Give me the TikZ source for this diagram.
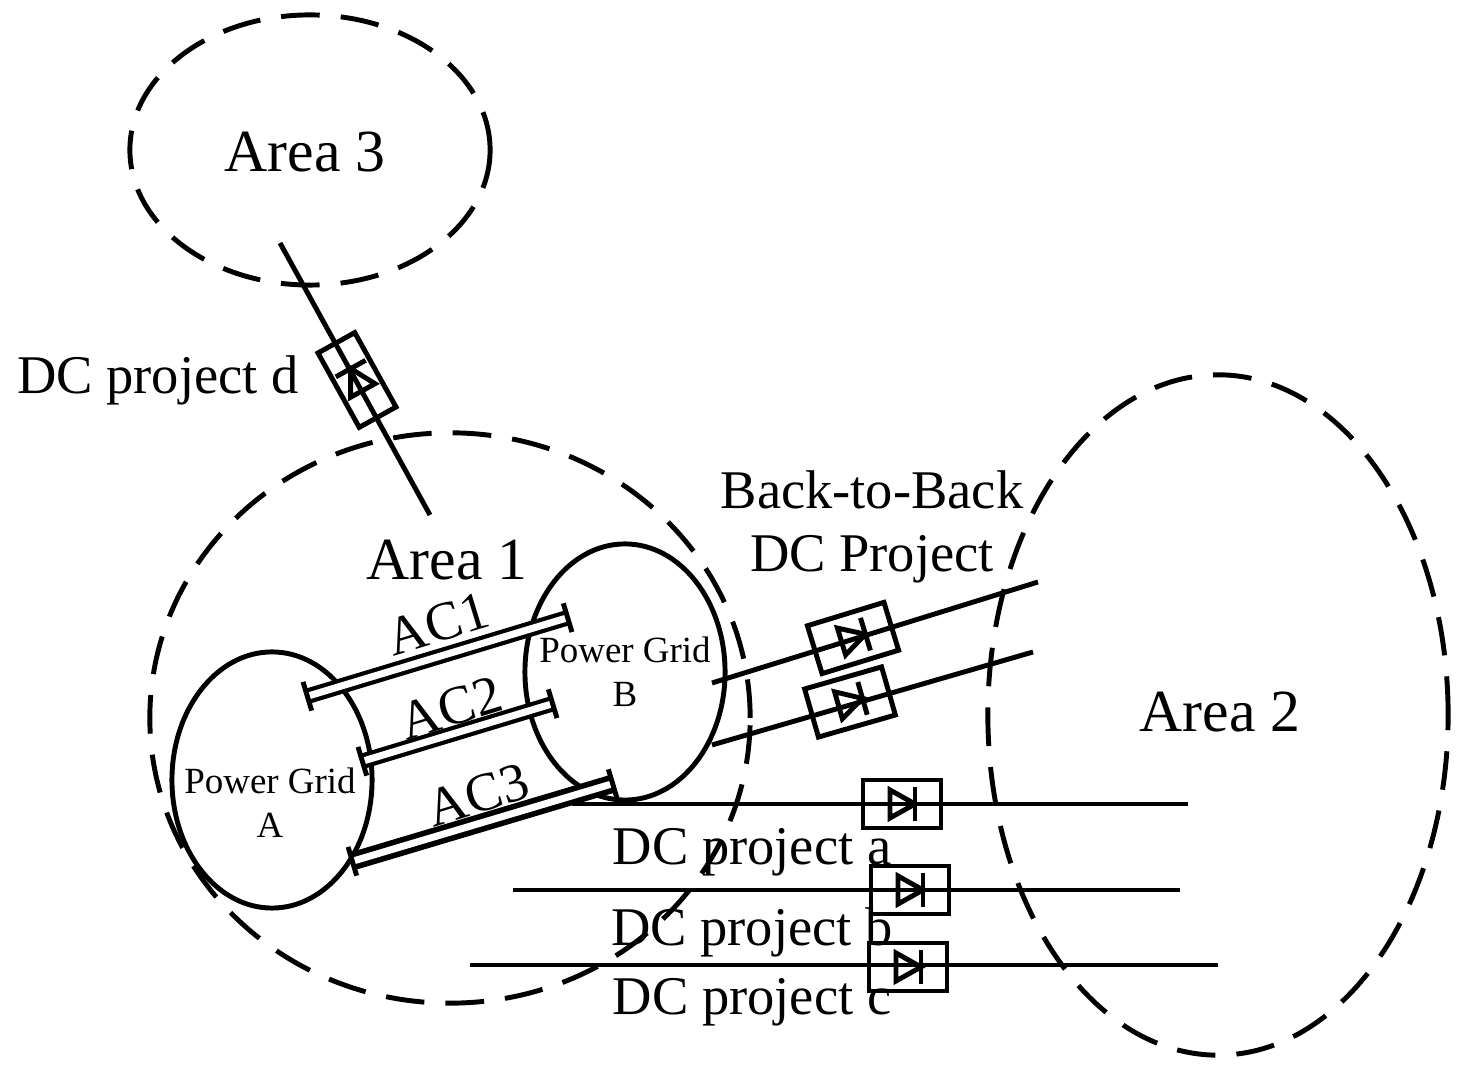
\documentclass[tikz,border=0pt]{standalone}
\usepackage{fontspec}
\setmainfont{Liberation Serif}
\usetikzlibrary{shapes.geometric,arrows.meta}
\begin{document}
\begin{tikzpicture}[x=0.01cm,y=-0.01cm,
   area/.style={draw,ellipse,dash pattern=on 11pt off 6pt,line width=1.4pt,inner sep=0},
   grid/.style={draw,ellipse,line width=1.4pt,inner sep=0},
   line/.style={line width=1.4pt},
   ac/.style={double,double distance=2pt,line width=1.2pt,{Bar[width=3mm,line width=1.4pt]}-{Bar[width=3mm,line width=1.4pt]}},
   big/.style={font=\fontsize{17pt}{20pt}\selectfont},
   mid/.style={font=\fontsize{15.5pt}{18pt}\selectfont},
   small/.style={font=\fontsize{10.5pt}{12.5pt}\selectfont,align=center},
   dbox/.style={draw,line width=1.4pt,minimum width=0.8cm,minimum height=0.45cm,inner sep=0,
     path picture={
       \draw[line width=1.4pt] (path picture bounding box.center)+(-0.12cm,0.14cm) -- +(0.13cm,0) -- +(-0.12cm,-0.14cm) -- cycle;
       \draw[line width=1.4pt] (path picture bounding box.center)+(0.13cm,0.17cm) -- +(0.13cm,-0.17cm);}}]
\useasboundingbox (0,0) rectangle (1475,1077);
% areas
\node[area,minimum width=3.6cm,minimum height=2.7cm] (A3) at (310,150) {};
\node[area,minimum width=6cm,minimum height=5.7cm] (A1) at (450,718) {};
\node[area,minimum width=4.6cm,minimum height=6.8cm] (A2) at (1218,715) {};
\node[big] at (305,152) {Area 3};
\node[big] at (447,560) {Area 1};
\node[big] at (1220,712) {Area 2};
% power grids
\node[grid,minimum width=2cm,minimum height=2.56cm] (PA) at (272,780) {};
\node[grid,minimum width=2cm,minimum height=2.56cm] (PB) at (625,672) {};
\node[small] at (270,803) {Power Grid\\A};
\node[small] at (625,672) {Power Grid\\B};
% AC lines
\coordinate (a1) at (305,697); \coordinate (b1) at (570,617);
\coordinate (a2) at (360,762); \coordinate (b2) at (555,703);
\coordinate (a3) at (350,862); \coordinate (b3) at (615,783);
\draw[ac] (a1) -- (b1);
\draw[ac] (a2) -- (b2);
\draw[ac,line width=1.6pt] (a3) -- (b3);
\node[mid,rotate=17] at (438,624) {AC1};
\node[mid,rotate=17] at (451,708) {AC2};
\node[mid,rotate=17] at (478,795) {AC3};
% DC project d
\coordinate (d1) at (280,243); \coordinate (d2) at (430,515);
\draw[line] (d1) -- (d2);
\node[dbox,rotate=119,minimum width=0.85cm,minimum height=0.42cm] (dd) at (357,380) {};
\node[mid] at (158,380) {DC project d};
% back-to-back
\coordinate (e1) at (712,683); \coordinate (f1) at (1038,582);
\coordinate (e2) at (712,745); \coordinate (f2) at (1033,652);
\draw[line] (e1) -- (f1);
\draw[line] (e2) -- (f2);
\node[dbox,rotate=17,minimum height=0.5cm] (bb1) at (853,638) {};
\node[dbox,rotate=16,minimum height=0.5cm] (bb2) at (850,702) {};
\node[mid,align=center] at (872,527) {Back-to-Back\\DC Project};
% DC projects a, b, c
\coordinate (ga) at (572,804); \coordinate (ha) at (1188,804);
\coordinate (gb) at (513,890); \coordinate (hb) at (1180,890);
\coordinate (gc) at (470,965); \coordinate (hc) at (1218,965);
\draw[line] (ga) -- (ha);
\draw[line] (gb) -- (hb);
\draw[line] (gc) -- (hc);
\node[dbox,minimum width=0.78cm,minimum height=0.48cm] (da) at (902,804) {};
\node[dbox,minimum width=0.78cm,minimum height=0.48cm] (db) at (910,890) {};
\node[dbox,minimum width=0.78cm,minimum height=0.48cm] (dc) at (908,967) {};
\node[mid] at (752,852) {DC project a};
\node[mid] at (752,932) {DC project b};
\node[mid] at (752,1002) {DC project c};
\end{tikzpicture}
\end{document}
